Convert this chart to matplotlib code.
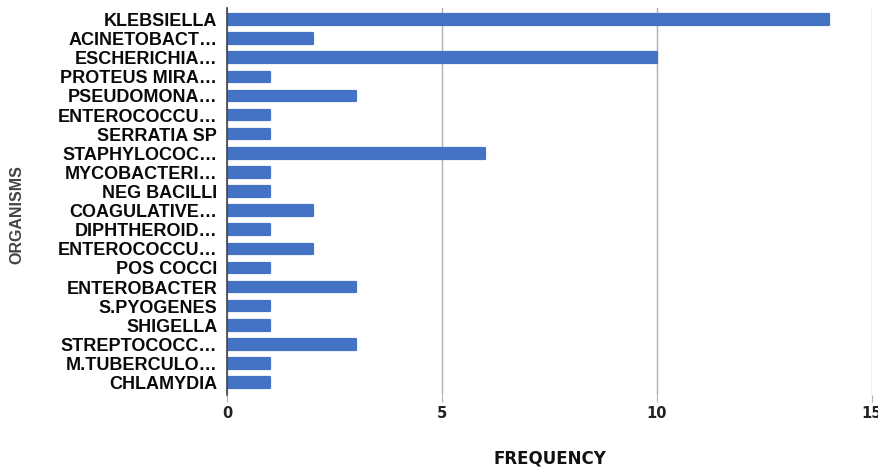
import matplotlib.pyplot as plt

organisms = ["KLEBSIELLA", "ACINETOBACT…", "ESCHERICHIA…", "PROTEUS MIRA…",
             "PSEUDOMONA…", "ENTEROCOCCU…", "SERRATIA SP", "STAPHYLOCOC…",
             "MYCOBACTERI…", "NEG BACILLI", "COAGULATIVE…", "DIPHTHEROID…",
             "ENTEROCOCCU…", "POS COCCI", "ENTEROBACTER", "S.PYOGENES",
             "SHIGELLA", "STREPTOCOCC…", "M.TUBERCULO…", "CHLAMYDIA"]
frequency = [14, 2, 10, 1, 3, 1, 1, 6, 1, 1, 2, 1, 2, 1, 3, 1, 1, 3, 1, 1]
xticks = [0, 5, 10, 15]

fig = plt.figure(figsize=(8.79, 4.70), dpi=100)
ax = fig.add_axes([227/879, 75/470, 645/879, 387/470])

ypos = list(range(len(organisms)))
bars = ax.barh(ypos, frequency, height=0.55, color="#4472C4",
               edgecolor="#4472C4", linewidth=1.6, zorder=3)
# round the bar corners slightly
for b in bars:
    b.set_joinstyle("round")

ax.set_ylim(len(organisms) - 0.35, -0.6)
ax.set_xlim(0, 15)
ax.set_xticks(xticks)
ax.set_yticks(ypos)
ax.set_yticklabels(organisms, fontfamily="Liberation Sans", fontweight="bold",
                   fontsize=13, color="#0a0a0a")
ax.set_xticklabels([str(t) for t in xticks], fontfamily="DejaVu Sans",
                   fontweight="bold", fontsize=10.5, color="#222222")

ax.grid(axis="x", color="#b0b0b0", linewidth=1, zorder=0)
for s in ["top", "right", "bottom"]:
    ax.spines[s].set_visible(False)
ax.spines["left"].set_color("#444444")
ax.spines["left"].set_linewidth(1.2)
ax.spines["left"].set_zorder(4)

ax.tick_params(axis="y", length=0, pad=7)
ax.tick_params(axis="x", length=5, color="#b0b0b0", pad=3)

fig.text(550/879, 1 - 459/470, "FREQUENCY", ha="center", va="center",
         fontfamily="DejaVu Sans", fontweight="bold", fontsize=12,
         color="#111111")
fig.text(17/879, 1 - 215/470, "ORGANISMS", rotation=90, ha="center",
         va="center", fontfamily="Liberation Sans", fontweight="bold",
         fontsize=11.5, color="#444444")

fig.savefig("out.png", dpi=100)
